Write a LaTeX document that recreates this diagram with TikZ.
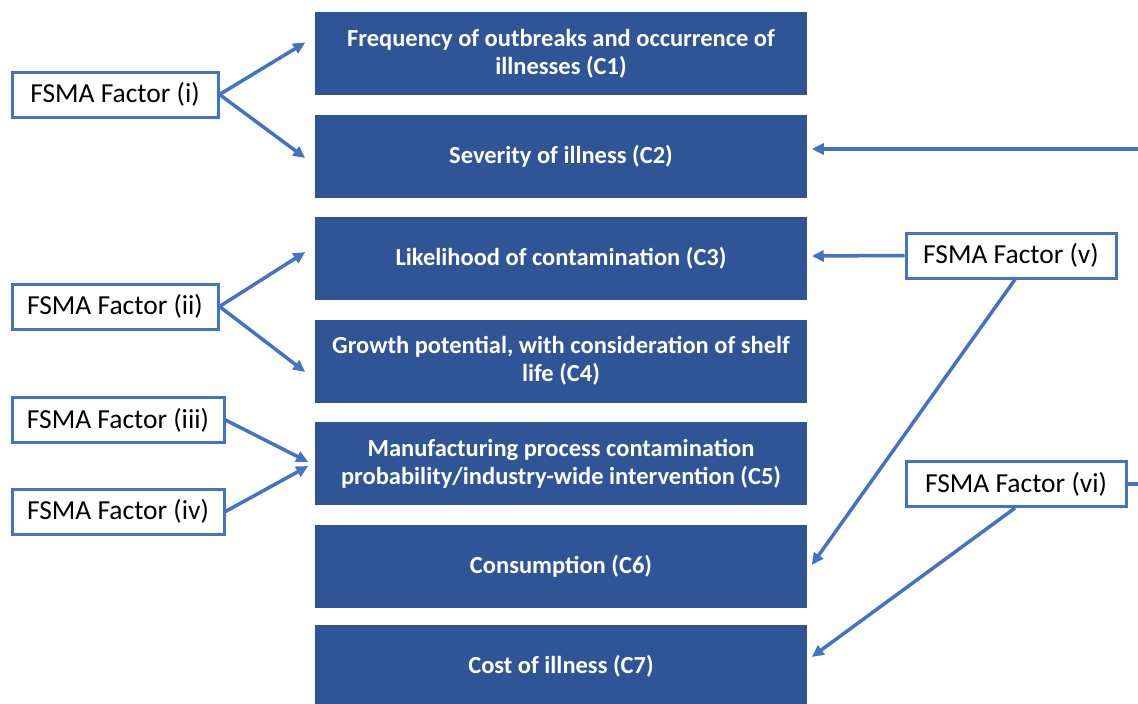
\documentclass[tikz,border=0pt]{standalone}
\usepackage{fontspec}
\setmainfont{Carlito}
\usepackage{tikz}
\usetikzlibrary{arrows.meta, positioning}
\definecolor{critblue}{HTML}{2F5597}
\definecolor{linkblue}{HTML}{4472C4}

\begin{document}
\begin{tikzpicture}[x=1pt, y=-1pt, ->, >={Triangle[length=12pt,width=11pt]}, line width=3.5pt,
    crit/.style={draw=none, fill=critblue, text=white, font=\fontsize{24.5}{28}\selectfont\bfseries,
        minimum width=492pt, minimum height=83pt, align=center, inner sep=0pt},
    factor/.style={draw=linkblue, line width=3pt, fill=white, font=\fontsize{27.5}{30}\selectfont,
        minimum height=45pt, inner sep=0pt}]
    \useasboundingbox (0,0) rectangle (1138,704);
    % criteria
    \node[crit] (c1) at (561,53.5) {Frequency of outbreaks and occurrence of\\illnesses (C1)};
    \node[crit] (c2) at (561,156) {Severity of illness (C2)};
    \node[crit] (c3) at (561,258) {Likelihood of contamination (C3)};
    \node[crit] (c4) at (561,361) {Growth potential, with consideration of shelf\\life (C4)};
    \node[crit] (c5) at (561,463.5) {Manufacturing process contamination\\probability/industry-wide intervention (C5)};
    \node[crit] (c6) at (561,566) {Consumption (C6)};
    \node[crit] (c7) at (561,666) {Cost of illness (C7)};
    % FSMA factors
    \node[factor, minimum width=206pt] (f1) at (115,94.5) {FSMA Factor (i)};
    \node[factor, minimum width=206pt] (f2) at (115,306.5) {FSMA Factor (ii)};
    \node[factor, minimum width=212pt] (f3) at (118,420) {FSMA Factor (iii)};
    \node[factor, minimum width=212pt] (f4) at (118,511.5) {FSMA Factor (iv)};
    \node[factor, minimum width=210pt] (f5) at (1011,255.5) {FSMA Factor (v)};
    \node[factor, minimum width=220pt] (f6) at (1016,484) {FSMA Factor (vi)};
    \coordinate (in2) at (1140,149);
    \coordinate (out6) at (1140,484);

    \draw[linkblue] (f1.east) -- ([shift={(-8,-11)}]c1.west);
    \draw[linkblue] (f1.east) -- ([shift={(-8,2)}]c2.west);
    \draw[linkblue] (f2.east) -- ([shift={(-8,-6)}]c3.west);
    \draw[linkblue] (f2.east) -- ([shift={(-8,11)}]c4.west);
    \draw[linkblue] (f3.east) -- ([shift={(-5,-1.5)}]c5.west);
    \draw[linkblue] (f4.east) -- ([shift={(-5,2.5)}]c5.west);
    \draw[linkblue] (in2) -- ([shift={(3,0)}]c2.east |- in2);
    \draw[linkblue] (f5.west) -- ([shift={(3,-2)}]c3.east);
    \draw[linkblue] ([xshift=4pt]f5.south) -- ([shift={(3,-1)}]c6.east);
    \draw[linkblue] ([xshift=-1pt]f6.south) -- ([shift={(3,-9)}]c7.east);
    \draw[linkblue, -] (f6.east) -- (out6);
\end{tikzpicture}
\end{document}
